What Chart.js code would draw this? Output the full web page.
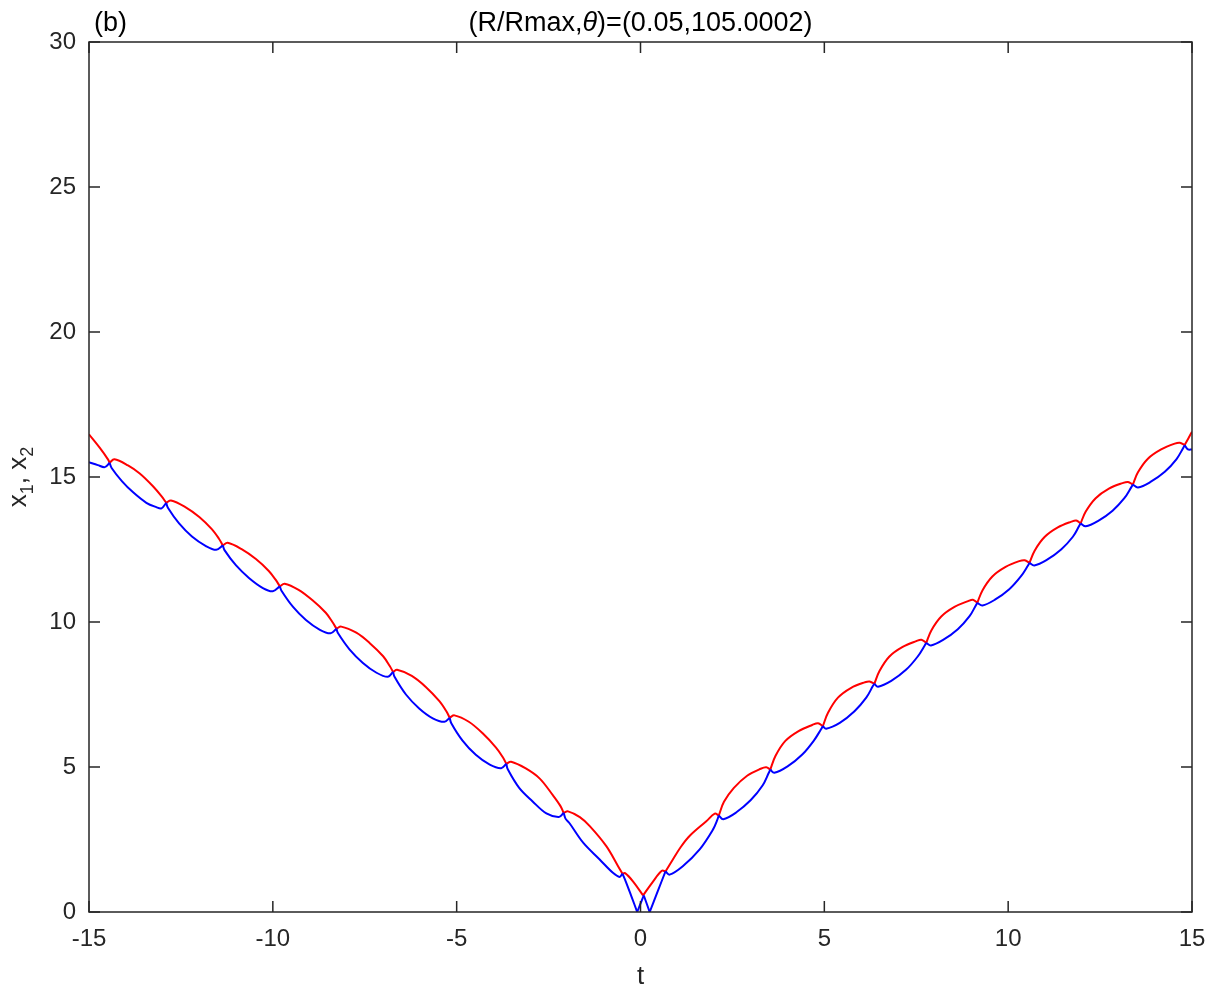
<!DOCTYPE html>
<html>
<head>
<meta charset="utf-8">
<script src="https://cdn.jsdelivr.net/npm/chart.js@4.4.1/dist/chart.umd.min.js"></script>
<style>
  body { margin: 0; background: #fff; }
  canvas { display: block; }
</style>
</head>
<body>
<canvas id="plot" width="1212" height="990"></canvas>
<script>
// tick values
const xTicks = [-15, -10, -5, 0, 5, 10, 15];
const yTicks = [0, 5, 10, 15, 20, 25, 30];

// each arc is a list of [t, x] points
// left branch (t < 0): red arcs sit above, blue arcs below
const leftRed = [
  [[-15.00, 16.47], [-14.71, 16.01], [-14.48, 15.60], [-14.44, 15.49]],
  [[-14.44, 15.49], [-14.31, 15.61], [-13.94, 15.40], [-13.62, 15.12], [-13.26, 14.68], [-13.03, 14.34], [-12.90, 14.11]],
  [[-12.90, 14.11], [-12.77, 14.19], [-12.40, 13.98], [-12.00, 13.62], [-11.66, 13.20], [-11.47, 12.88], [-11.36, 12.64]],
  [[-11.36, 12.64], [-11.23, 12.73], [-10.86, 12.52], [-10.46, 12.17], [-10.11, 11.76], [-9.92, 11.45], [-9.81, 11.23]],
  [[-9.81, 11.23], [-9.68, 11.32], [-9.30, 11.11], [-8.92, 10.75], [-8.56, 10.32], [-8.38, 10.00], [-8.27, 9.77]],
  [[-8.27, 9.77], [-8.14, 9.84], [-7.73, 9.63], [-7.37, 9.28], [-7.00, 8.82], [-6.82, 8.48], [-6.73, 8.28]],
  [[-6.73, 8.28], [-6.62, 8.35], [-6.22, 8.14], [-5.84, 7.76], [-5.47, 7.27], [-5.28, 6.92], [-5.19, 6.70]],
  [[-5.19, 6.70], [-5.06, 6.78], [-4.67, 6.56], [-4.30, 6.17], [-3.93, 5.67], [-3.74, 5.33], [-3.65, 5.11]],
  [[-3.65, 5.11], [-3.52, 5.18], [-3.12, 4.95], [-2.74, 4.60], [-2.38, 4.02], [-2.18, 3.66], [-2.09, 3.42]],
  [[-2.09, 3.42], [-1.97, 3.47], [-1.65, 3.27], [-1.38, 2.96], [-0.93, 2.27], [-0.61, 1.58], [-0.49, 1.32]]
];
const leftBlue = [
  [[-15.00, 15.51], [-14.76, 15.41], [-14.57, 15.34], [-14.44, 15.49]],
  [[-14.44, 15.49], [-14.38, 15.30], [-14.10, 14.85], [-13.80, 14.47], [-13.44, 14.11], [-13.17, 13.96], [-13.03, 13.92], [-12.90, 14.11]],
  [[-12.90, 14.11], [-12.85, 13.93], [-12.55, 13.40], [-12.20, 12.95], [-11.82, 12.62], [-11.54, 12.49], [-11.36, 12.64]],
  [[-11.36, 12.64], [-11.31, 12.47], [-11.00, 11.95], [-10.65, 11.52], [-10.27, 11.17], [-10.00, 11.06], [-9.81, 11.23]],
  [[-9.81, 11.23], [-9.76, 11.07], [-9.45, 10.52], [-9.10, 10.07], [-8.72, 9.73], [-8.43, 9.61], [-8.27, 9.77]],
  [[-8.27, 9.77], [-8.23, 9.62], [-7.91, 9.05], [-7.55, 8.59], [-7.18, 8.25], [-6.87, 8.11], [-6.73, 8.28]],
  [[-6.73, 8.28], [-6.69, 8.11], [-6.38, 7.50], [-6.02, 7.02], [-5.65, 6.68], [-5.33, 6.56], [-5.19, 6.70]],
  [[-5.19, 6.70], [-5.15, 6.52], [-4.84, 5.91], [-4.48, 5.42], [-4.10, 5.08], [-3.79, 4.96], [-3.65, 5.11]],
  [[-3.65, 5.11], [-3.61, 4.92], [-3.30, 4.28], [-2.94, 3.82], [-2.56, 3.40], [-2.22, 3.28], [-2.09, 3.42]],
  [[-2.09, 3.42], [-2.04, 3.22], [-1.93, 3.06], [-1.56, 2.39], [-1.11, 1.81], [-0.75, 1.35], [-0.57, 1.21], [-0.49, 1.32]]
];

// around t = 0
const midRed = [
  [[-0.49, 1.32], [-0.42, 1.34], [-0.20, 1.05], [0.07, 0.57]],
  [[0.07, 0.57], [0.34, 1.05], [0.58, 1.42], [0.68, 1.40]]
];
const midBlue = [
  [[-0.49, 1.32], [-0.40, 1.05], [-0.25, 0.55], [-0.09, 0.00]],
  [[-0.09, 0.00], [0.09, 0.57]],
  [[0.09, 0.57], [0.25, 0.00]],
  [[0.25, 0.00], [0.47, 0.72], [0.68, 1.40]]
];

// right branch (t > 0)
const rightRed = [
  [[0.68, 1.40], [0.88, 1.81], [1.10, 2.25], [1.34, 2.63], [1.79, 3.13], [2.02, 3.39], [2.13, 3.33]],
  [[2.13, 3.33], [2.27, 3.80], [2.54, 4.28], [2.90, 4.70], [3.27, 4.94], [3.42, 4.99], [3.53, 4.91]],
  [[3.53, 4.91], [3.67, 5.38], [3.94, 5.90], [4.30, 6.24], [4.67, 6.45], [4.83, 6.51], [4.96, 6.41]],
  [[4.96, 6.41], [5.10, 6.87], [5.37, 7.39], [5.73, 7.73], [6.10, 7.92], [6.23, 7.95], [6.36, 7.87]],
  [[6.36, 7.87], [6.50, 8.31], [6.77, 8.81], [7.13, 9.14], [7.50, 9.34], [7.64, 9.39], [7.77, 9.28]],
  [[7.77, 9.28], [7.91, 9.71], [8.18, 10.19], [8.54, 10.52], [8.91, 10.72], [9.04, 10.77], [9.16, 10.66]],
  [[9.16, 10.66], [9.30, 11.09], [9.57, 11.57], [9.93, 11.90], [10.30, 12.10], [10.45, 12.13], [10.58, 12.04]],
  [[10.58, 12.04], [10.72, 12.46], [10.99, 12.93], [11.35, 13.26], [11.72, 13.46], [11.85, 13.50], [11.97, 13.40]],
  [[11.97, 13.40], [12.11, 13.81], [12.38, 14.27], [12.74, 14.60], [13.11, 14.79], [13.26, 14.83], [13.39, 14.74]],
  [[13.39, 14.74], [13.53, 15.16], [13.80, 15.63], [14.16, 15.95], [14.53, 16.15], [14.67, 16.18], [14.80, 16.10]],
  [[14.80, 16.10], [14.90, 16.33], [15.00, 16.56]]
];
const rightBlue = [
  [[0.68, 1.40], [0.79, 1.29], [1.15, 1.58], [1.61, 2.16], [1.97, 2.84], [2.08, 3.15], [2.13, 3.33]],
  [[2.13, 3.33], [2.25, 3.20], [2.60, 3.43], [3.00, 3.86], [3.32, 4.36], [3.49, 4.80], [3.53, 4.91]],
  [[3.53, 4.91], [3.64, 4.80], [4.00, 5.02], [4.40, 5.43], [4.72, 5.92], [4.91, 6.30], [4.96, 6.41]],
  [[4.96, 6.41], [5.05, 6.32], [5.42, 6.52], [5.82, 6.92], [6.14, 7.39], [6.32, 7.79], [6.36, 7.87]],
  [[6.36, 7.87], [6.46, 7.77], [6.82, 7.97], [7.22, 8.35], [7.54, 8.81], [7.73, 9.19], [7.77, 9.28]],
  [[7.77, 9.28], [7.90, 9.19], [8.23, 9.38], [8.63, 9.75], [8.95, 10.20], [9.12, 10.57], [9.16, 10.66]],
  [[9.16, 10.66], [9.30, 10.57], [9.63, 10.76], [10.03, 11.13], [10.35, 11.58], [10.54, 11.95], [10.58, 12.04]],
  [[10.58, 12.04], [10.71, 11.95], [11.04, 12.13], [11.44, 12.50], [11.76, 12.94], [11.93, 13.31], [11.97, 13.40]],
  [[11.97, 13.40], [12.11, 13.30], [12.44, 13.48], [12.84, 13.84], [13.16, 14.27], [13.35, 14.65], [13.39, 14.74]],
  [[13.39, 14.74], [13.53, 14.64], [13.86, 14.82], [14.26, 15.18], [14.58, 15.62], [14.76, 16.00], [14.80, 16.10]],
  [[14.80, 16.10], [14.89, 15.95], [15.00, 15.95]]
];

const FONT = '"Liberation Sans", Arial, Helvetica, sans-serif';
const AXIS_COLOR = '#262626';

function arcDataset(arc, color) {
  return {
    data: arc.map(p => ({ x: p[0], y: p[1] })),
    borderColor: color,
    borderWidth: 2,
    pointRadius: 0,
    fill: false,
    tension: 0.35
  };
}

// dataset 0 is drawn on top in Chart.js, so blue goes first
const datasets = []
  .concat(leftBlue.concat(midBlue, rightBlue).map(a => arcDataset(a, '#0000ff')))
  .concat(leftRed.concat(midRed, rightRed).map(a => arcDataset(a, '#ff0000')));

// box, inward ticks on all four sides, title and axis labels (MATLAB look)
const matlabAxes = {
  id: 'matlabAxes',
  afterDraw(chart) {
    const { ctx, chartArea: a, scales } = chart;
    ctx.save();
    ctx.strokeStyle = AXIS_COLOR;
    ctx.lineWidth = 1.5;
    ctx.strokeRect(a.left, a.top, a.right - a.left, a.bottom - a.top);
    const tl = 11;
    ctx.beginPath();
    xTicks.forEach(v => {
      const px = scales.x.getPixelForValue(v);
      ctx.moveTo(px, a.bottom); ctx.lineTo(px, a.bottom - tl);
      ctx.moveTo(px, a.top); ctx.lineTo(px, a.top + tl);
    });
    yTicks.forEach(v => {
      const py = scales.y.getPixelForValue(v);
      ctx.moveTo(a.left, py); ctx.lineTo(a.left + tl, py);
      ctx.moveTo(a.right, py); ctx.lineTo(a.right - tl, py);
    });
    ctx.stroke();

    ctx.fillStyle = AXIS_COLOR;
    ctx.textBaseline = 'alphabetic';

    // x label
    ctx.font = '26px ' + FONT;
    ctx.textAlign = 'center';
    ctx.fillText('t', (a.left + a.right) / 2, 984);

    // y label x_1, x_2 rotated
    ctx.save();
    ctx.translate(26, (a.top + a.bottom) / 2);
    ctx.rotate(-Math.PI / 2);
    const big = '26px ' + FONT, small = '18px ' + FONT;
    const parts = [['x', big, 0], ['1', small, 7], [', x', big, 0], ['2', small, 7]];
    let total = 0;
    parts.forEach(p => { ctx.font = p[1]; total += ctx.measureText(p[0]).width; });
    let cx = -total / 2;
    ctx.textAlign = 'left';
    parts.forEach(p => {
      ctx.font = p[1];
      ctx.fillText(p[0], cx, p[2]);
      cx += ctx.measureText(p[0]).width;
    });
    ctx.restore();

    // panel tag and title
    ctx.fillStyle = '#000';
    ctx.font = '27px ' + FONT;
    ctx.textAlign = 'left';
    ctx.fillText('(b)', 94, 31);
    const tparts = [['(R/Rmax,', '27px ' + FONT], ['\u03B8', 'italic 27px ' + FONT], [')=(0.05,105.0002)', '27px ' + FONT]];
    let tw = 0;
    tparts.forEach(p => { ctx.font = p[1]; tw += ctx.measureText(p[0]).width; });
    let tx = (a.left + a.right) / 2 - tw / 2;
    tparts.forEach(p => {
      ctx.font = p[1];
      ctx.fillText(p[0], tx, 31);
      tx += ctx.measureText(p[0]).width;
    });
    ctx.restore();
  }
};

new Chart(document.getElementById('plot'), {
  type: 'line',
  data: { datasets },
  plugins: [matlabAxes],
  options: {
    responsive: false,
    animation: false,
    events: [],
    layout: { padding: { left: 0, right: 20, top: 42, bottom: 0 } },
    plugins: { legend: { display: false }, tooltip: { enabled: false } },
    scales: {
      x: {
        type: 'linear',
        min: -15, max: 15,
        afterFit(s) { s.height = 78; s.paddingLeft = 0; s.paddingRight = 0; },
        grid: { display: false, drawTicks: false },
        border: { display: false },
        ticks: {
          stepSize: 5,
          padding: 13,
          color: AXIS_COLOR,
          font: { family: FONT, size: 24 },
          maxRotation: 0,
          callback: v => String(v)
        }
      },
      y: {
        type: 'linear',
        min: 0, max: 30,
        afterFit(s) { s.width = 89; },
        grid: { display: false, drawTicks: false },
        border: { display: false },
        ticks: {
          stepSize: 5,
          padding: 13,
          color: AXIS_COLOR,
          font: { family: FONT, size: 24 },
          callback: v => String(v)
        }
      }
    }
  }
});
</script>
</body>
</html>
